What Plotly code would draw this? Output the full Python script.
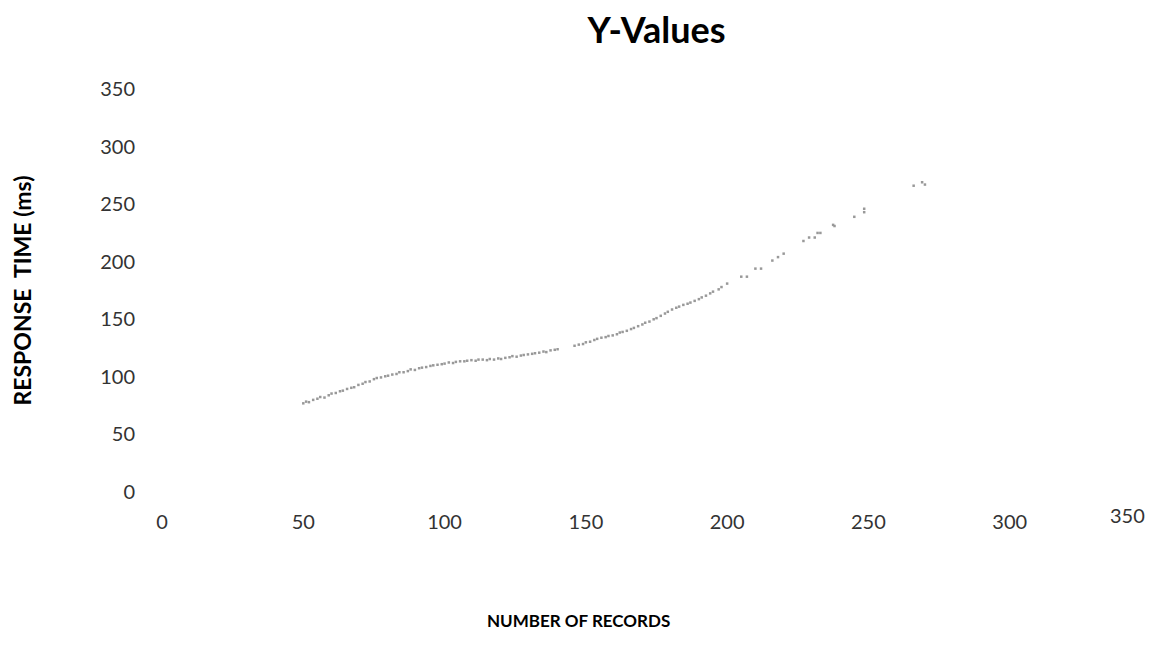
import plotly.graph_objects as go

# Data (number of records vs response time in ms)
records = [
    50, 51, 52, 53.5, 55, 56, 57.5, 59, 60, 61.5,
    63, 64, 65.5, 67, 68, 69.5, 71, 72, 73.5, 75,
    76, 77.5, 79, 80, 81.5, 83, 84, 85.5, 87, 88,
    89.5, 91, 92, 93.5, 95, 96, 97.5, 99, 100, 101.5,
    103, 104, 105.5, 107, 108, 109.5, 111, 112, 113.5, 115,
    116, 117.5, 119, 120, 121.5, 123, 124, 125.5, 127, 128,
    129.5, 131, 132, 133.5, 135, 136, 137.5, 139, 140, 146,
    147.5, 149, 150, 151.5, 153, 154, 155.5, 157, 158, 159.5,
    161, 162, 163, 164.5, 166, 167, 168.5, 170, 171, 172.5,
    174, 175, 176.5, 178, 179, 180.5, 182, 183, 184.5, 186,
    187, 188.5, 190, 191, 192.5, 194, 195, 197, 198, 200,
    205, 207, 210, 212, 216, 218, 220, 227, 229, 231,
    232, 233, 237.5, 238, 245, 248.5, 248.5, 266, 269, 270,
]
response_ms = [
    77, 78.5, 78, 80, 81, 82.5, 82, 84, 85.5, 86,
    87.5, 88, 89.5, 90.5, 91, 93, 94, 95.5, 96, 98,
    99, 99.5, 100.5, 101, 102, 102.5, 104, 104, 105, 106.5,
    106, 107.5, 108, 108.5, 109.5, 110, 110.5, 111, 111.5, 112.5,
    112, 113, 113.5, 113.5, 114, 114.5, 114, 115, 115, 114.5,
    115.5, 115, 116, 115.5, 116.5, 117, 118, 117.5, 118.5, 119,
    119.5, 120, 120.5, 121, 122, 121.5, 123, 123.5, 124, 127,
    128, 128.5, 130, 130.5, 132, 133, 134, 134.5, 135.5, 136,
    137, 138.5, 139, 140, 141.5, 142.5, 144, 145.5, 147, 148,
    150, 151, 153, 155, 156.5, 158.5, 160, 161, 162.5, 163.5,
    164.5, 166, 167.5, 169, 170.5, 172.5, 174, 176, 178, 181,
    187, 187, 194, 194, 201, 204, 207, 218, 221, 221,
    225, 225, 232, 231, 239, 243, 246, 266, 269, 267,
]

x_ticks = [0, 50, 100, 150, 200, 250, 300]
y_ticks = [0, 50, 100, 150, 200, 250, 300, 350]

FONT = "Lato, Open Sans, sans-serif"

fig = go.Figure()
fig.add_trace(go.Scatter(
    x=records, y=response_ms, mode="markers",
    marker=dict(size=2.5, color="#999999", symbol="square", line=dict(width=0)),
    showlegend=False,
))

fig.update_layout(
    width=1148, height=658,
    paper_bgcolor="white", plot_bgcolor="white",
    margin=dict(l=154, r=5, t=81, b=174),
    font=dict(family=FONT, color="#333333", size=20),
    title=dict(text="<b>Y-Values</b>", x=0.5, xref="paper", y=1 - 22 / 658,
               yref="container", xanchor="center", yanchor="middle",
               font=dict(size=36, color="#000000", family=FONT)),
    xaxis=dict(range=[0, 350], tickvals=x_ticks, showgrid=False,
               zeroline=False, showline=False, ticks="outside", ticklen=12,
               tickcolor="rgba(0,0,0,0)", tickfont=dict(size=20)),
    yaxis=dict(range=[0, 350], tickvals=y_ticks, showgrid=False,
               zeroline=False, showline=False, ticks="outside", ticklen=22,
               tickcolor="rgba(0,0,0,0)", tickfont=dict(size=20),
               automargin=False,
               title=dict(text="<b>RESPONSE  TIME (ms)</b>", standoff=70,
                          font=dict(size=23, color="#000000", family=FONT))),
    annotations=[
        dict(text="350", x=350, y=0, xref="x", yref="y", xshift=-24,
             yshift=-23, showarrow=False, xanchor="center", yanchor="middle",
             font=dict(size=20, color="#333333", family=FONT)),
        dict(text="<b>NUMBER OF RECORDS</b>", x=(578 - 162) / 989,
             y=(492 - 620) / 403, xref="paper", yref="paper",
             showarrow=False, xanchor="center", yanchor="middle",
             font=dict(size=17, color="#000000", family=FONT)),
    ],
)

fig.write_html("out.html")
